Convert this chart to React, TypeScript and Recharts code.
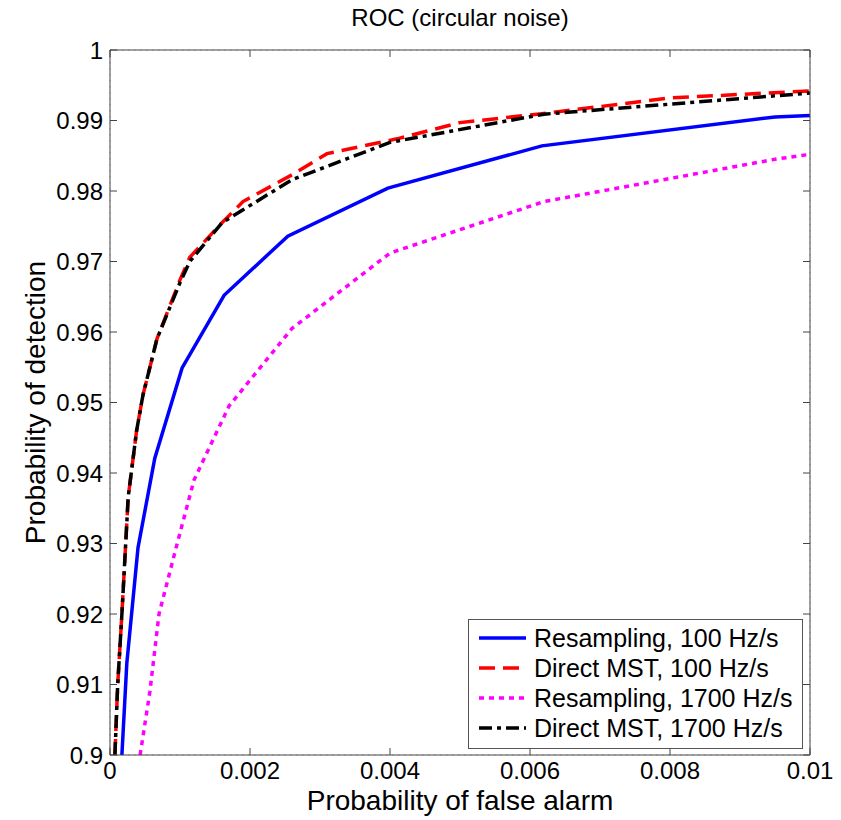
import React from 'react';
import { LineChart, Line, XAxis, YAxis, CartesianGrid, Legend } from 'recharts';

const xTicks = [0, 0.002, 0.004, 0.006, 0.008, 0.01];
const yTicks = [0.9, 0.91, 0.92, 0.93, 0.94, 0.95, 0.96, 0.97, 0.98, 0.99, 1];

const resampling100 = [
  { x: 0.00017, y: 0.9 }, { x: 0.00024, y: 0.913 }, { x: 0.0004, y: 0.9294 },
  { x: 0.00064, y: 0.9421 }, { x: 0.00103, y: 0.9549 }, { x: 0.00163, y: 0.9652 },
  { x: 0.00254, y: 0.9736 }, { x: 0.00397, y: 0.9804 }, { x: 0.00617, y: 0.9864 },
  { x: 0.0095, y: 0.9905 }, { x: 0.01, y: 0.9907 },
];
const direct100 = [
  { x: 0.00007, y: 0.9 }, { x: 0.00011, y: 0.91 }, { x: 0.00017, y: 0.92 },
  { x: 0.00026, y: 0.9366 }, { x: 0.00038, y: 0.946 }, { x: 0.00047, y: 0.951 },
  { x: 0.00067, y: 0.959 }, { x: 0.001, y: 0.9674 }, { x: 0.00114, y: 0.9706 },
  { x: 0.0016, y: 0.9755 }, { x: 0.0019, y: 0.9785 }, { x: 0.0026, y: 0.9823 },
  { x: 0.0031, y: 0.9853 }, { x: 0.0041, y: 0.9874 }, { x: 0.005, y: 0.9897 },
  { x: 0.0062, y: 0.991 }, { x: 0.008, y: 0.9932 }, { x: 0.01, y: 0.9942 },
];
const resampling1700 = [
  { x: 0.00043, y: 0.9 }, { x: 0.00057, y: 0.909 }, { x: 0.0007, y: 0.92 },
  { x: 0.00096, y: 0.93 }, { x: 0.0012, y: 0.939 }, { x: 0.0017, y: 0.9495 },
  { x: 0.0026, y: 0.9605 }, { x: 0.004, y: 0.9712 }, { x: 0.0062, y: 0.9785 },
  { x: 0.0095, y: 0.9845 }, { x: 0.01, y: 0.9852 },
];
const direct1700 = [
  { x: 0.00007, y: 0.9 }, { x: 0.00011, y: 0.91 }, { x: 0.00017, y: 0.92 },
  { x: 0.00026, y: 0.9366 }, { x: 0.00038, y: 0.946 }, { x: 0.00047, y: 0.951 },
  { x: 0.00067, y: 0.959 }, { x: 0.001, y: 0.967 }, { x: 0.00114, y: 0.97 },
  { x: 0.0016, y: 0.9755 }, { x: 0.0026, y: 0.9816 }, { x: 0.004, y: 0.9869 },
  { x: 0.0062, y: 0.9909 }, { x: 0.0095, y: 0.9935 }, { x: 0.01, y: 0.9939 },
];

const seriesNames = [
  'Resampling, 100 Hz/s',
  'Direct MST, 100 Hz/s',
  'Resampling, 1700 Hz/s',
  'Direct MST, 1700 Hz/s',
];
const seriesData = [resampling100, direct100, resampling1700, direct1700];
const seriesColors = ['#0000ff', '#ff0000', '#ff00ff', '#000000'];
const seriesDash = [undefined, '16 8', '5 5', '13 5 4 5'];

const FONT = '"Liberation Sans", Arial, sans-serif';

const LegendBox = () => (
  <div
    style={{
      border: '1px solid #555',
      background: '#fff',
      padding: '3px 0 5px 9px',
      fontFamily: FONT,
      fontSize: 25,
      color: '#000',
      boxSizing: 'border-box',
      width: 335,
    }}
  >
    {seriesNames.map((n, i) => (
      <div key={n} style={{ display: 'flex', alignItems: 'center', height: 30 }}>
        <svg width={50} height={10} style={{ marginRight: 6 }}>
          <line x1={1} y1={5} x2={48} y2={5} stroke={seriesColors[i]} strokeWidth={3.5}
            strokeDasharray={seriesDash[i]} />
        </svg>
        <span>{n}</span>
      </div>
    ))}
  </div>
);

export default function App() {
  const fmt = (v: number) => String(v);
  return (
    <div style={{ position: 'absolute', left: 0, top: 0, width: 841, height: 820, background: '#fff' }}>
      <LineChart width={841} height={820} margin={{ top: 49, right: 30, bottom: 0, left: 0 }}>
        <CartesianGrid stroke="#b5b5b5" strokeDasharray="1.5 4.5" strokeWidth={1} />
        <XAxis
          xAxisId="b" dataKey="x" type="number" domain={[0, 0.01]} ticks={xTicks}
          allowDataOverflow height={65} tickSize={-7} tickMargin={14} tickFormatter={fmt}
          stroke="#444" tick={{ fill: '#000', fontSize: 24, fontFamily: FONT }}
          label={{ value: 'Probability of false alarm', position: 'insideBottom', offset: 10,
            style: { fill: '#000', fontSize: 28, fontFamily: FONT } }}
        />
        <XAxis
          xAxisId="t" orientation="top" dataKey="x" type="number" domain={[0, 0.01]} ticks={xTicks}
          allowDataOverflow height={1} tickSize={-7} tickFormatter={() => ''} stroke="#444"
          label={{ value: 'ROC (circular noise)', position: 'top', offset: 23,
            style: { fill: '#000', fontSize: 24, fontFamily: FONT } }}
        />
        <YAxis
          yAxisId="l" type="number" domain={[0.9, 1]} ticks={yTicks} allowDataOverflow width={110}
          tickSize={-7} tickMargin={14} tickFormatter={fmt} stroke="#444"
          tick={{ fill: '#000', fontSize: 24, fontFamily: FONT }}
          label={{ value: 'Probability of detection', angle: -90, position: 'insideLeft', offset: 35,
            style: { fill: '#000', fontSize: 28, fontFamily: FONT, textAnchor: 'middle' } }}
        />
        <YAxis
          yAxisId="r" orientation="right" type="number" domain={[0.9, 1]} ticks={yTicks}
          allowDataOverflow width={1} tickSize={-7} tickFormatter={() => ''} stroke="#444"
        />
        {seriesData.map((d, i) => (
          <Line
            key={seriesNames[i]} xAxisId="b" yAxisId="l" data={d} dataKey="y" name={seriesNames[i]}
            type="linear" stroke={seriesColors[i]} strokeWidth={3.5} strokeDasharray={seriesDash[i]}
            dot={false} activeDot={false} isAnimationActive={false}
          />
        ))}
        <Legend
          layout="vertical" align="center" verticalAlign="middle"
          wrapperStyle={{ left: 468, top: 619, width: 335 }}
          content={() => <LegendBox />}
        />
      </LineChart>
    </div>
  );
}
